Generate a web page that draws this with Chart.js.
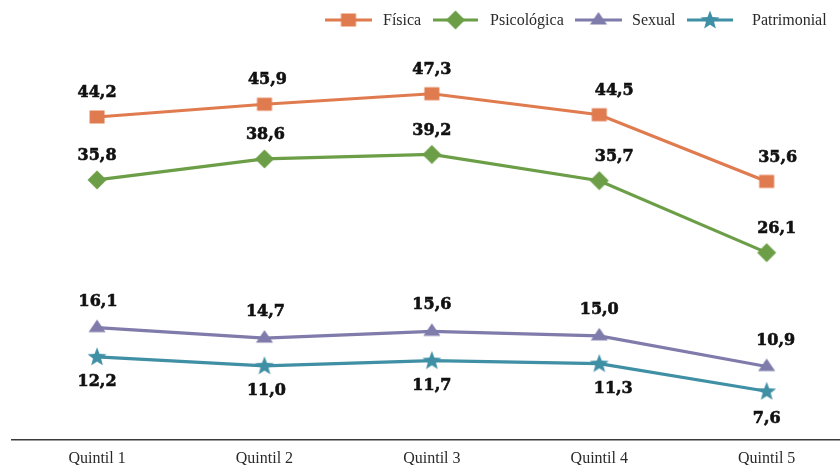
<!DOCTYPE html>
<html>
<head>
<meta charset="utf-8">
<script src="https://cdn.jsdelivr.net/npm/chart.js@4.4.0/dist/chart.umd.min.js"></script>
<style>
  html, body { margin: 0; padding: 0; background: #ffffff; }
  #wrap { width: 840px; height: 465px; }
</style>
</head>
<body>
<div id="wrap"><canvas id="c" width="840" height="465"></canvas></div>
<script>
const categories = ['Quintil 1', 'Quintil 2', 'Quintil 3', 'Quintil 4', 'Quintil 5'];
const seriesNames = ['Física', 'Psicológica', 'Sexual', 'Patrimonial'];
const fisica = [44.2, 45.9, 47.3, 44.5, 35.6];
const psicologica = [35.8, 38.6, 39.2, 35.7, 26.1];
const sexual = [16.1, 14.7, 15.6, 15.0, 10.9];
const patrimonial = [12.2, 11.0, 11.7, 11.3, 7.6];

const colors = ['#e07b4f', '#6b9e46', '#7f7bab', '#3f8fa5'];
const shapes = ['square', 'diamond', 'triangle', 'star'];

function makeMarker(shape, color) {
  const s = 22, c = s / 2;
  const cv = document.createElement('canvas');
  cv.width = s; cv.height = s;
  const g = cv.getContext('2d');
  g.fillStyle = color;
  g.beginPath();
  if (shape === 'square') {
    g.rect(c - 7.5, c - 6.5, 15, 13);
  } else if (shape === 'diamond') {
    g.moveTo(c, c - 9.5); g.lineTo(c + 9.5, c); g.lineTo(c, c + 9.5); g.lineTo(c - 9.5, c);
  } else if (shape === 'triangle') {
    g.moveTo(c, c - 8); g.lineTo(c + 8.5, c + 4.5); g.lineTo(c - 8.5, c + 4.5);
  } else {
    const R = 10, r = 4.2;
    for (let i = 0; i < 10; i++) {
      const a = -Math.PI / 2 + i * Math.PI / 5;
      const rr = i % 2 === 0 ? R : r;
      const x = c + rr * Math.cos(a), y = c + 0.5 + rr * Math.sin(a);
      if (i === 0) g.moveTo(x, y); else g.lineTo(x, y);
    }
  }
  g.closePath();
  g.fill();
  return cv;
}
const markers = shapes.map((sh, i) => makeMarker(sh, colors[i]));

const values = [fisica, psicologica, sexual, patrimonial];
const datasets = values.map((arr, i) => ({
  label: seriesNames[i],
  data: arr.map((v, j) => ({ x: j + 1, y: v })),
  borderColor: colors[i],
  backgroundColor: colors[i],
  borderWidth: 3.2,
  pointStyle: markers[i],
  pointRadius: 10,
  tension: 0,
  clip: false
}));

// label placement (styling only)
const labelDy = [-24, -24, -26, 25];
const labelDx = [
  [0, 3, 0, 15, 11],
  [0, 1, 0, 15, 10],
  [1, 1, 0, 0, 9],
  [0, 2, 0, 14, 0]
];

const labelPlugin = {
  id: 'valueLabels',
  afterDatasetsDraw(chart) {
    const ctx = chart.ctx;
    ctx.save();
    ctx.font = 'bold 16px "DejaVu Serif", serif';
    ctx.fillStyle = '#111111';
    ctx.strokeStyle = '#111111';
    ctx.lineWidth = 0.6;
    ctx.textAlign = 'center';
    ctx.textBaseline = 'middle';
    chart.data.datasets.forEach((ds, i) => {
      const meta = chart.getDatasetMeta(i);
      meta.data.forEach((pt, j) => {
        const v = values[i][j].toFixed(1).replace('.', ',');
        let dy = labelDy[i];
        if (i === 3 && j === 4) dy = 28;
        ctx.fillText(v, pt.x + labelDx[i][j], pt.y + dy);
        ctx.strokeText(v, pt.x + labelDx[i][j], pt.y + dy);
      });
    });
    ctx.restore();
  }
};

const legendPlugin = {
  id: 'customLegend',
  afterDraw(chart) {
    const ctx = chart.ctx;
    const items = [
      { x1: 325, x2: 372, tx: 383 },
      { x1: 433, x2: 478, tx: 490 },
      { x1: 575, x2: 622, tx: 632 },
      { x1: 687, x2: 733, tx: 752 }
    ];
    const y = 20;
    ctx.save();
    ctx.font = '16px "Liberation Serif", serif';
    ctx.textBaseline = 'middle';
    ctx.textAlign = 'left';
    items.forEach((it, i) => {
      ctx.strokeStyle = colors[i];
      ctx.lineWidth = 3;
      ctx.beginPath();
      ctx.moveTo(it.x1, y);
      ctx.lineTo(it.x2, y);
      ctx.stroke();
      const m = markers[i];
      const mx = (it.x1 + it.x2) / 2;
      ctx.fillStyle = '#ffffff';
      ctx.fillRect(mx - 3, y - 2, 6, 4);
      ctx.drawImage(m, mx - m.width / 2, y - m.height / 2);
      ctx.fillStyle = '#2a2a2a';
      ctx.fillText(seriesNames[i], it.tx, y + 1);
    });
    ctx.restore();
  }
};

new Chart(document.getElementById('c'), {
  type: 'line',
  data: { datasets },
  options: {
    responsive: false,
    animation: false,
    devicePixelRatio: 1,
    layout: { autoPadding: false, padding: { left: 12, right: 0, top: 75, bottom: 0 } },
    plugins: { legend: { display: false }, tooltip: { enabled: false } },
    scales: {
      x: {
        type: 'linear',
        min: 0.492,
        max: 5.438,
        afterBuildTicks(scale) {
          scale.ticks = categories.map((c, i) => ({ value: i + 1 }));
        },
        afterFit(scale) { scale.height = 25; },
        ticks: {
          autoSkip: false,
          maxRotation: 0,
          padding: 9,
          color: '#2a2a2a',
          font: { family: '"Liberation Serif", serif', size: 16 },
          callback: (v) => categories[Math.round(v) - 1] || ''
        },
        grid: { display: false, drawTicks: false },
        border: { display: true, color: '#3a3a3a', width: 1.5 }
      },
      y: {
        display: false,
        min: 1.1,
        max: 49.8
      }
    }
  },
  plugins: [labelPlugin, legendPlugin]
});
</script>
</body>
</html>
